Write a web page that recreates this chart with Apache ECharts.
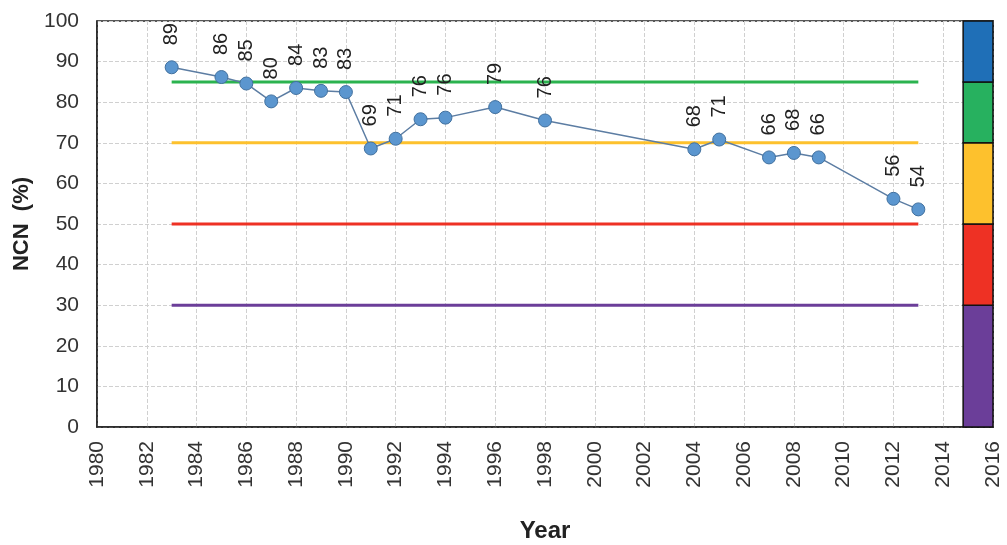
<!DOCTYPE html>
<html><head><meta charset="utf-8">
<script src="https://cdn.jsdelivr.net/npm/echarts@6/dist/echarts.min.js"></script>
<style>html,body{margin:0;padding:0;background:#fff}#c{width:1007px;height:545px}</style>
</head><body><div id="c"></div>
<script>
const years = [1983,1985,1986,1987,1988,1989,1990,1991,1992,1993,1994,1996,1998,2004,2005,2007,2008,2009,2012,2013];
const ncn   = [88.6,86.2,84.6,80.2,83.5,82.8,82.5,68.6,71.0,75.8,76.2,78.8,75.5,68.4,70.8,66.4,67.5,66.4,56.2,53.6];
const thresholds = [85,70,50,30];
const thresholdColors = ['#2BB34F','#FDC12D','#EE3124','#6B3E99'];
const thresholdStart = 1983, thresholdEnd = 2013;
const bandEdges = [0,30,50,70,85,100];
const bandColors = ['#6B3E99','#EE3124','#FDC12D','#27B15F','#1F6FB7'];
const bandX = [2014.8, 2016];

const font = 'Liberation Sans, Arial, sans-serif';
const series = [];
thresholds.forEach((t,i)=>{
  series.push({type:'line', data:[[thresholdStart,t],[thresholdEnd,t]], symbol:'none', silent:true,
    lineStyle:{color:thresholdColors[i], width:3}, z:2});
});
series.push({
  type:'line', data: years.map((y,i)=>[y,ncn[i]]), symbol:'circle', symbolSize:13,
  lineStyle:{color:'#5C7DA3', width:1.5},
  itemStyle:{color:'#5B96CF', borderColor:'#41709E', borderWidth:1},
  label:{show:true, position:'top', distance:15, rotate:90, align:'left', verticalAlign:'middle',
    fontFamily:font, fontSize:20, color:'#222', formatter:p=>Math.round(p.value[1])},
  z:5
});
series.push({
  type:'line', data:[], silent:true,
  markArea:{silent:true, data: bandColors.map((c,i)=>[
    {xAxis:bandX[0], yAxis:bandEdges[i], itemStyle:{color:c, borderColor:'#111', borderWidth:1.5}},
    {xAxis:bandX[1], yAxis:bandEdges[i+1]}])}
});

const chart = echarts.init(document.getElementById('c'));
chart.setOption({
  animation:false,
  grid:{left:97, right:14, top:21, bottom:118, outerBoundsMode:'none', containLabel:false,
    show:true, borderColor:'#222', borderWidth:1.5, backgroundColor:'transparent'},
  xAxis:{type:'value', min:1980, max:2016, interval:2,
    name:'Year', nameLocation:'middle', nameGap:92,
    nameTextStyle:{fontFamily:font, fontSize:24, fontWeight:'bold', color:'#222'},
    axisLine:{show:true, lineStyle:{color:'#222', width:1.5}}, axisTick:{show:false},
    axisLabel:{rotate:90, fontFamily:font, fontSize:21, color:'#333', margin:14, formatter:v=>String(v)},
    splitLine:{show:true, lineStyle:{color:'#d0d0d0', type:'dashed', width:1}}},
  yAxis:{type:'value', min:0, max:100, interval:10,
    name:'NCN  (%)', nameLocation:'middle', nameGap:62, nameRotate:90,
    nameTextStyle:{fontFamily:font, fontSize:22, fontWeight:'bold', color:'#222'},
    axisLine:{show:true, lineStyle:{color:'#222', width:1.5}}, axisTick:{show:false},
    axisLabel:{fontFamily:font, fontSize:21, color:'#333', margin:18},
    splitLine:{show:true, lineStyle:{color:'#d0d0d0', type:'dashed', width:1}}},
  series: series
});
</script></body></html>
